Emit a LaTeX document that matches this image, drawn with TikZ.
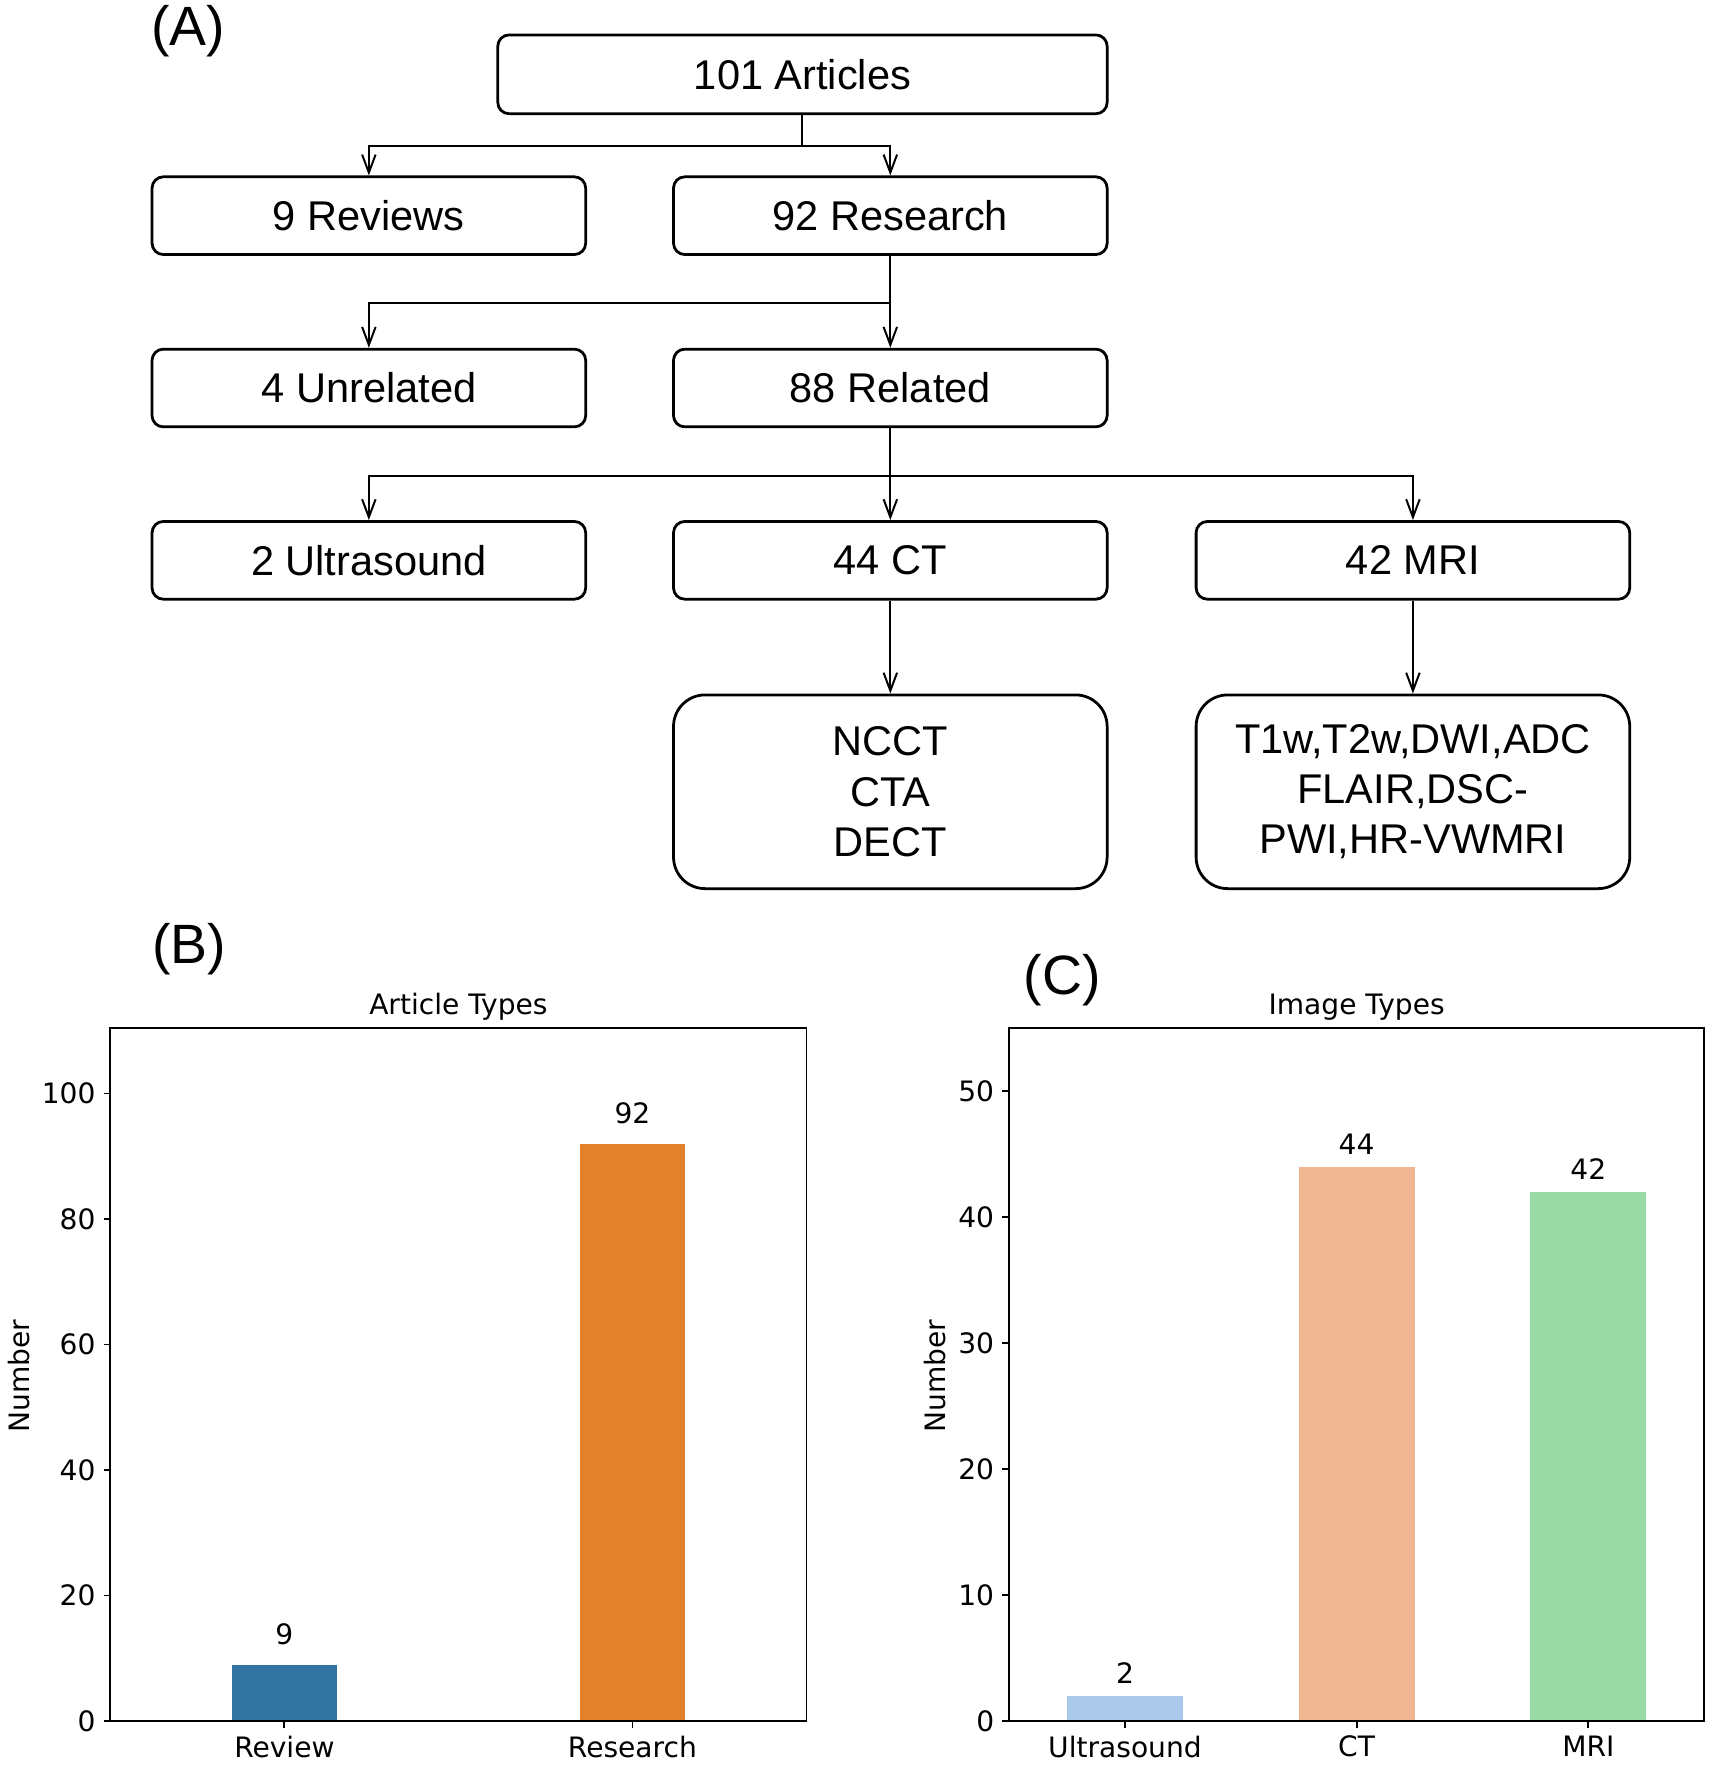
\documentclass[tikz,border=0pt]{standalone}
\usepackage{fontspec}
\setmainfont{Liberation Sans}
\newfontfamily\plotfont{DejaVu Sans}
\usepackage{xcolor}
\usepackage{tikz}
\usetikzlibrary{arrows.meta}

\definecolor{revblue}{HTML}{3274A1}
\definecolor{resorange}{HTML}{E1812C}
\definecolor{usblue}{HTML}{ABC9EA}
\definecolor{ctorange}{HTML}{EFB792}
\definecolor{mrigreen}{HTML}{98D9A6}

\begin{document}
\begin{tikzpicture}[
	box/.style={draw, line width=0.7pt, rounded corners=0.1cm, minimum width=3.85cm,
	minimum height=0.69cm, inner sep=0pt, font=\fontsize{10.5}{12.66}\selectfont},
	tallbox/.style={box, rounded corners=0.28cm, minimum height=1.72cm, align=center},
	arr/.style={-{Straight Barb[length=1.6mm, width=1.2mm]}, line width=0.5pt},
	panel/.style={font=\fontsize{14}{16}\selectfont, inner sep=0pt},
	plottext/.style={font=\plotfont\fontsize{7.1}{8.5}\selectfont},
	axisline/.style={line width=0.45pt},
	yticklab/.style={plottext, anchor=east, inner sep=0.065cm},
	xticklab/.style={plottext, anchor=north, inner sep=0.065cm},
	barval/.style={plottext, anchor=south, inner sep=0pt, yshift=0.17cm},
	plottitle/.style={plottext, anchor=south, inner sep=0.06cm}
	]
	\useasboundingbox (0,0) rectangle (15.21,-15.68);

	\node[panel] (labA) at (1.67,-0.28) {(A)};
	\node[box, minimum width=5.41cm, minimum height=0.70cm] (art) at (7.125,-0.66) {101 Articles};
	\node[box] (rev) at (3.275,-1.915) {9 Reviews};
	\node[box] (res) at (7.905,-1.915) {92 Research};
	\node[box] (unr) at (3.275,-3.445) {4 Unrelated};
	\node[box] (rel) at (7.905,-3.445) {88 Related};
	\node[box] (us) at (3.275,-4.975) {2 Ultrasound};
	\node[box] (ct) at (7.905,-4.975) {44 CT};
	\node[box] (mri) at (12.545,-4.975) {42 MRI};
	\node[tallbox] (ctsub) at (7.905,-7.03) {NCCT\\CTA\\DECT};
	\node[tallbox] (mrisub) at (12.545,-7.03) {T1w,T2w,DWI,ADC\\FLAIR,DSC-\\PWI,HR-VWMRI};

	\draw[arr] (art.south) -- ++(0,-0.27) -| (rev.north);
	\draw[arr] (art.south) -- ++(0,-0.27) -| (res.north);
	\draw[arr] (res.south) -- ++(0,-0.42) -| (unr.north);
	\draw[arr] (res.south) -- (rel.north);
	\draw[arr] (rel.south) -- ++(0,-0.42) -| (us.north);
	\draw[arr] (rel.south) -- (ct.north);
	\draw[arr] (rel.south) -- ++(0,-0.42) -| (mri.north);
	\draw[arr] (ct.south) -- (ctsub.north);
	\draw[arr] (mri.south) -- (mrisub.north);

	\node[panel] (labB) at (1.68,-8.43) {(B)};
	\node[panel] (labC) at (9.43,-8.70) {(C)};

	\begin{scope}[shift={(2.525,-15.28)}, x=3.09cm, y=0.05571cm]
		\fill[revblue] (-0.15,0) rectangle (0.15,9);
		\fill[resorange] (0.85,0) rectangle (1.15,92);
		\draw[axisline] (-0.5,0) rectangle (1.5,110.4);
		\foreach \v in {0,20,...,100}
			\draw[axisline] (-0.5,\v) -- ++(-0.06cm,0) node[yticklab] (tyB\v) {\v};
		\foreach \x/\t in {0/Review,1/Research}
			\draw[axisline] (\x,0) -- ++(0,-0.06cm) node[xticklab] (txB\x) {\t};
		\node[barval] (valRev) at (0,9) {9};
		\node[barval] (valRes) at (1,92) {92};
		\node[plottitle] (titleB) at (0.5,110.4) {Article Types};
	\end{scope}
	\node[plottext, rotate=90] (ylabB) at (0.17,-12.22) {Number};

	\begin{scope}[shift={(9.988,-15.28)}, x=2.057cm, y=0.11182cm]
		\fill[usblue] (-0.25,0) rectangle (0.25,2);
		\fill[ctorange] (0.75,0) rectangle (1.25,44);
		\fill[mrigreen] (1.75,0) rectangle (2.25,42);
		\draw[axisline] (-0.5,0) rectangle (2.5,55);
		\foreach \v in {0,10,...,50}
			\draw[axisline] (-0.5,\v) -- ++(-0.06cm,0) node[yticklab] (tyC\v) {\v};
		\foreach \x/\t in {0/Ultrasound,1/CT,2/MRI}
			\draw[axisline] (\x,0) -- ++(0,-0.06cm) node[xticklab] (txC\x) {\t};
		\node[barval, yshift=-0.07cm] (valUs) at (0,2) {2};
		\node[barval, yshift=-0.07cm] (valCt) at (1,44) {44};
		\node[barval, yshift=-0.07cm] (valMri) at (2,42) {42};
		\node[plottitle] (titleC) at (1,55) {Image Types};
	\end{scope}
	\node[plottext, rotate=90] (ylabC) at (8.30,-12.22) {Number};
\end{tikzpicture}
\end{document}
